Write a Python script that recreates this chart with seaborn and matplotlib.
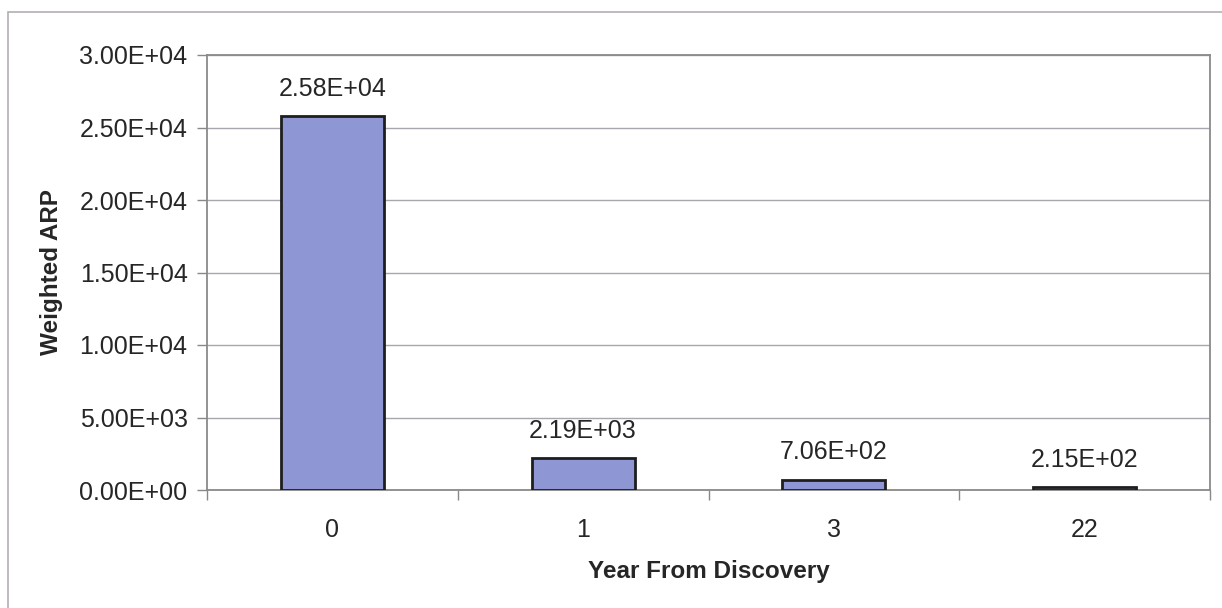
import matplotlib
matplotlib.use("Agg")
import matplotlib.pyplot as plt
import seaborn as sns
import pandas as pd
from matplotlib.patches import Rectangle

years = ["0", "1", "3", "22"]
weighted_arp = [25800, 2190, 706, 215]
value_labels = ["2.58E+04", "2.19E+03", "7.06E+02", "2.15E+02"]
ytick_values = [0, 5000, 10000, 15000, 20000, 25000, 30000]
ytick_labels = ["0.00E+00", "5.00E+03", "1.00E+04", "1.50E+04", "2.00E+04", "2.50E+04", "3.00E+04"]

sns.set_theme(style="white")
plt.rcParams["font.family"] = ["Liberation Sans", "DejaVu Sans"]
txt = "#262626"
fs = 18

df = pd.DataFrame({"year": years, "arp": weighted_arp})

fig = plt.figure(figsize=(12.22, 6.08), dpi=100)
fig.patch.set_facecolor("white")
ax = fig.add_axes([207/1222, 1-490/608, (1210-207)/1222, (490-55)/608])

sns.barplot(data=df, x="year", y="arp", order=years, color="#8f96d4",
            saturation=1, width=0.41, edgecolor="#1e1e1e", linewidth=2, ax=ax, zorder=3)

ax.set_ylim(0, 30000)
ax.set_xlim(-0.5, len(years) - 0.5)
ax.set_yticks(ytick_values)
ax.set_yticklabels(ytick_labels, fontsize=fs, color=txt)
ax.yaxis.grid(True, color="#a8a6ae", linewidth=1.0, zorder=0)
ax.set_axisbelow(True)

# boundaries ticks (major, unlabeled), category labels at centres (minor)
ax.set_xticks([i - 0.5 for i in range(len(years) + 1)])
ax.set_xticklabels([""] * (len(years) + 1))
ax.set_xticks(range(len(years)), minor=True)
ax.set_xticklabels(years, minor=True, fontsize=fs, color=txt)
ax.tick_params(axis="x", which="major", direction="out", length=7, width=1, color="#888888", bottom=True)
ax.tick_params(axis="x", which="minor", length=0, pad=20)
ax.tick_params(axis="y", direction="out", length=7, width=1, color="#888888", left=True, pad=7)

for s in ax.spines.values():
    s.set_color("#8a8a8a")
    s.set_linewidth(1.3)

ax.set_xlabel("Year From Discovery", fontsize=17.5, fontweight="bold", color=txt, labelpad=13)
ax.set_ylabel("Weighted ARP", fontsize=17.5, fontweight="bold", color=txt, labelpad=12)

for i, (v, lab) in enumerate(zip(weighted_arp, value_labels)):
    ax.annotate(lab, (i, v), xytext=(0, 11), textcoords="offset points",
                ha="center", va="bottom", fontsize=fs, color=txt)

fig.patches.append(Rectangle((8/1222, -0.1), 1.2, 1 - 12/608 + 0.1, transform=fig.transFigure,
                             fill=False, edgecolor="#b4aeb4", linewidth=1.2))

fig.savefig("out.png", dpi=100, facecolor="white")
